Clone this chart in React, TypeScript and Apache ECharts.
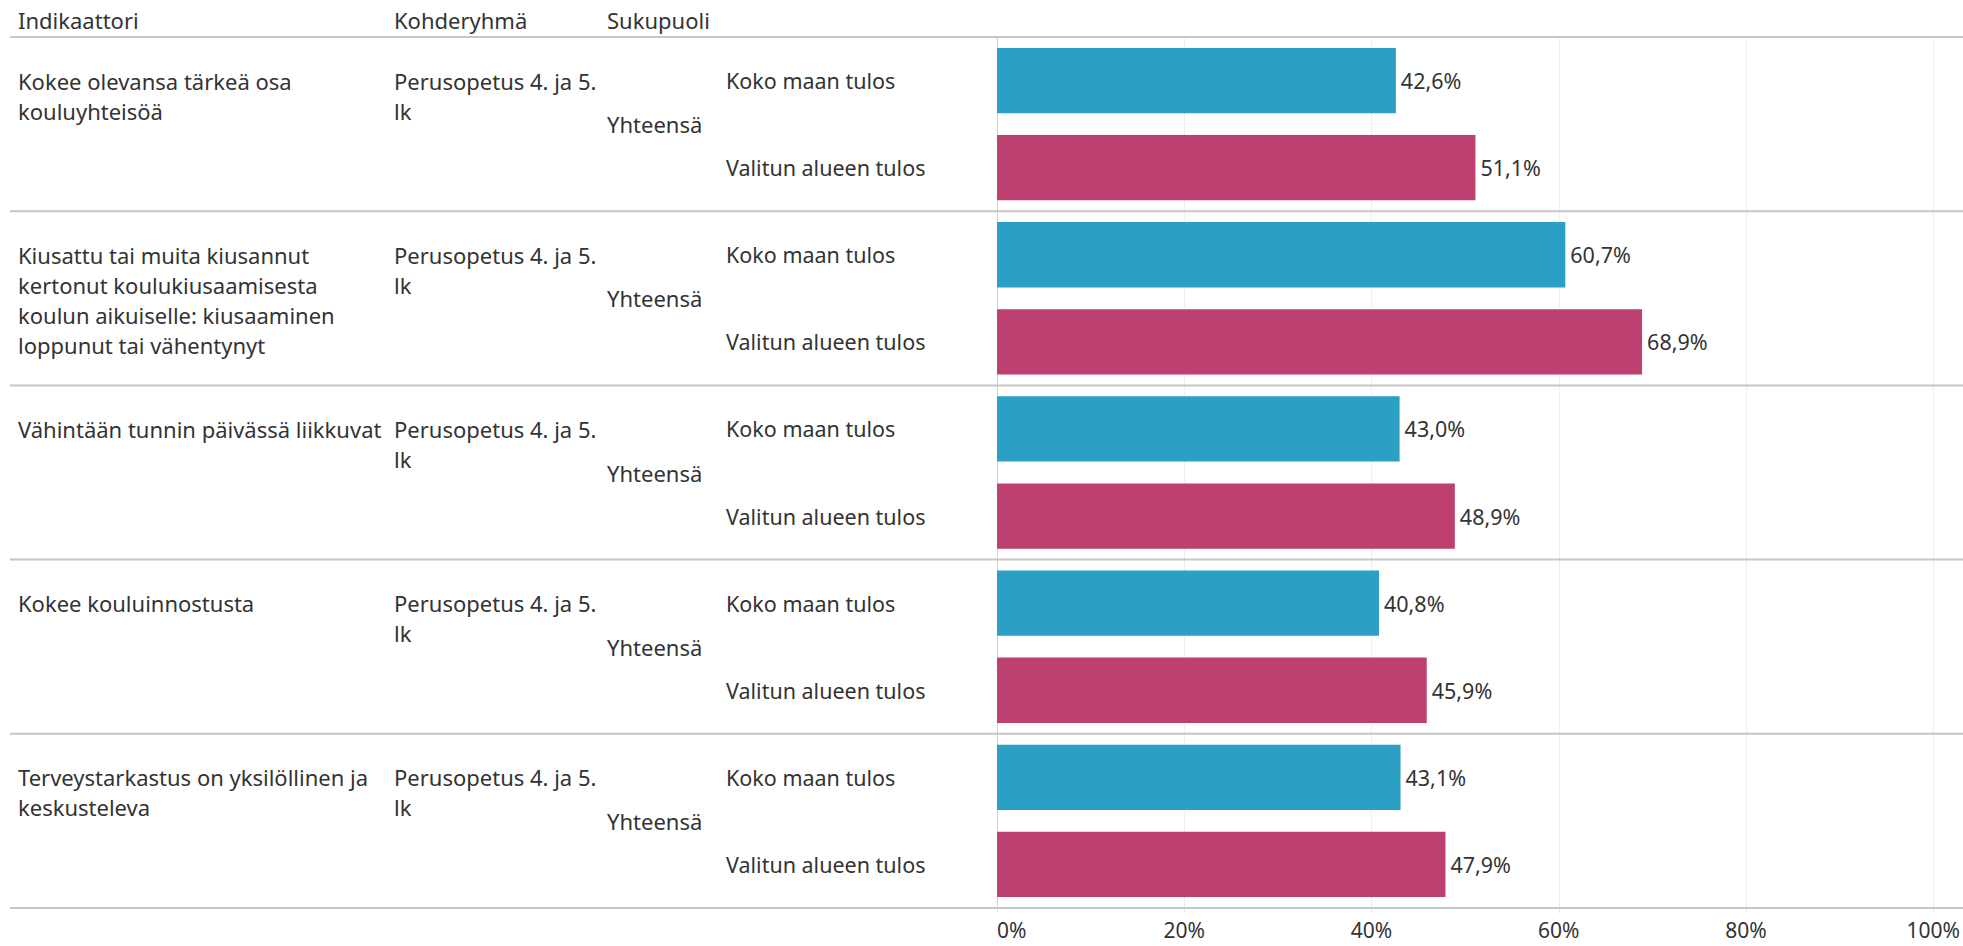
import React, { useEffect, useRef } from "react";
import * as echarts from "echarts";

const headers = ["Indikaattori", "Kohderyhmä", "Sukupuoli"];
const indicators = [
  "Kokee olevansa tärkeä osa\nkouluyhteisöä",
  "Kiusattu tai muita kiusannut\nkertonut koulukiusaamisesta\nkoulun aikuiselle: kiusaaminen\nloppunut tai vähentynyt",
  "Vähintään tunnin päivässä liikkuvat",
  "Kokee kouluinnostusta",
  "Terveystarkastus on yksilöllinen ja\nkeskusteleva",
];
const targetGroups = [
  "Perusopetus 4. ja 5.\nlk",
  "Perusopetus 4. ja 5.\nlk",
  "Perusopetus 4. ja 5.\nlk",
  "Perusopetus 4. ja 5.\nlk",
  "Perusopetus 4. ja 5.\nlk",
];
const genders = ["Yhteensä", "Yhteensä", "Yhteensä", "Yhteensä", "Yhteensä"];
const measures = ["Koko maan tulos", "Valitun alueen tulos"];
const kokoMaanTulos = [42.6, 60.7, 43.0, 40.8, 43.1];
const valitunAlueenTulos = [51.1, 68.9, 48.9, 45.9, 47.9];
const xTicks = [0, 20, 40, 60, 80, 100];

const FONT = "'Noto Sans', sans-serif";
const TEXT = "#333333";
const SEP = "#c6c6c6";
const BLUE = "#2ba0c4";
const PINK = "#be4071";

const GRID_LEFT = 997;
const GRID_RIGHT = 23;
const GRID_TOP = 37;
const GRID_BOTTOM = 38;
const COL_X = [18, 394, 607];
const MEASURE_X = 726;

export default function App() {
  const ref = useRef<HTMLDivElement>(null);
  useEffect(() => {
    if (!ref.current) return;
    const chart = echarts.init(ref.current, undefined, { renderer: "svg" });
    const cats: string[] = [];
    indicators.forEach((_, i) => measures.forEach((_, j) => cats.push(`${i}-${j}`)));
    const blueData = cats.map((c) => {
      const [i, j] = c.split("-").map(Number);
      return j === 0 ? kokoMaanTulos[i] : "-";
    });
    const pinkData = cats.map((c) => {
      const [i, j] = c.split("-").map(Number);
      return j === 1 ? valitunAlueenTulos[i] : "-";
    });
    const fmt = (v: number) => v.toFixed(1).replace(".", ",") + "%";
    const label = {
      show: true,
      position: "right",
      distance: 5,
      color: TEXT,
      fontFamily: FONT,
      fontSize: 21.5,
      formatter: (p: any) => fmt(p.value),
    };
    chart.setOption({
      animation: false,
      grid: { left: GRID_LEFT, right: GRID_RIGHT, top: GRID_TOP, bottom: GRID_BOTTOM, containLabel: false },
      xAxis: {
        type: "value",
        min: xTicks[0],
        max: xTicks[xTicks.length - 1],
        interval: xTicks[1] - xTicks[0],
        axisLine: { show: false },
        axisTick: { show: true, length: 5, lineStyle: { color: "#e4e4e4" } },
        splitLine: { show: true, lineStyle: { color: "#efefef", width: 1 } },
        axisLabel: {
          formatter: "{value}%",
          color: TEXT,
          fontFamily: FONT,
          fontSize: 21,
          lineHeight: 16,
          margin: 14,
          alignMinLabel: "left",
        },
      },
      yAxis: {
        type: "category",
        inverse: true,
        data: cats,
        axisLine: { show: true, lineStyle: { color: "#d4d4d4", width: 1 } },
        axisTick: { show: false },
        splitLine: { show: false },
        axisLabel: {
          align: "left",
          margin: GRID_LEFT - MEASURE_X,
          color: TEXT,
          fontFamily: FONT,
          fontSize: 21.5,
          formatter: (v: string) => measures[Number(v.split("-")[1])],
        },
      },
      series: [
        {
          type: "bar",
          name: measures[0],
          data: blueData,
          barWidth: "75%",
          barGap: "-100%",
          itemStyle: { color: BLUE },
          label,
        },
        {
          type: "bar",
          name: measures[1],
          data: pinkData,
          barWidth: "75%",
          barGap: "-100%",
          itemStyle: { color: PINK },
          label,
        },
      ],
    });

    const yOf = (c: string) => chart.convertToPixel({ yAxisIndex: 0 }, c) as number;
    const band = yOf("0-1") - yOf("0-0");
    const W = ref.current.clientWidth;
    const elements: any[] = [];
    const textStyle = (x: number, y: number, text: string, va: string) => ({
      type: "text",
      x,
      y,
      style: {
        text,
        fill: TEXT,
        font: `22px ${FONT}`,
        fontFamily: FONT,
        fontSize: 22,
        lineHeight: 30,
        align: "left",
        verticalAlign: va,
      },
      z: 10,
    });
    const hline = (y: number) => ({
      type: "line",
      shape: { x1: 10, y1: y, x2: W, y2: y },
      style: { stroke: SEP, lineWidth: 2 },
      z: 10,
    });
    const firstTop = yOf("0-0") - band / 2;
    headers.forEach((h, k) => elements.push(textStyle(COL_X[k], firstTop - 17, h, "middle")));
    elements.push(hline(firstTop));
    indicators.forEach((ind, i) => {
      const yb = yOf(`${i}-0`);
      const yp = yOf(`${i}-1`);
      elements.push(textStyle(COL_X[0], yb - 15, ind, "top"));
      elements.push(textStyle(COL_X[1], yb - 15, targetGroups[i], "top"));
      elements.push(textStyle(COL_X[2], (yb + yp) / 2, genders[i], "middle"));
      elements.push(hline(yp + band / 2));
    });
    chart.setOption({ graphic: { elements } });

    return () => chart.dispose();
  }, []);
  return (
    <div
      ref={ref}
      style={{ position: "fixed", left: 0, top: 0, width: 1963, height: 946, background: "#ffffff" }}
    />
  );
}
